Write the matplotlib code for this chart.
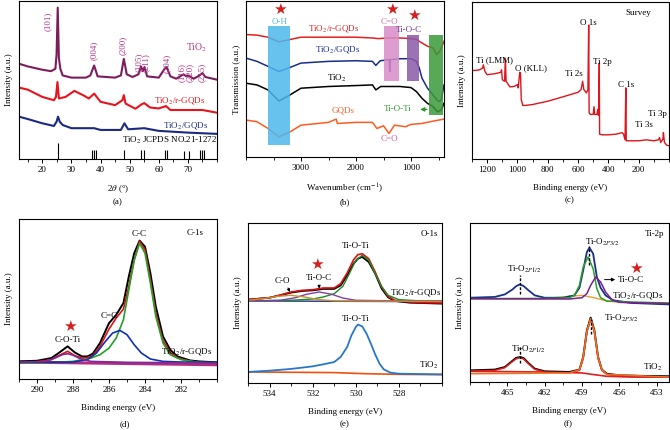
import numpy as np
import matplotlib
matplotlib.use('Agg')
import matplotlib.pyplot as plt
from matplotlib.ticker import MultipleLocator

plt.rcParams['font.family'] = ['Liberation Serif', 'DejaVu Sans']
plt.rcParams['mathtext.fontset'] = 'stix'
plt.rcParams['font.size'] = 6.5

# ---------------- (a) XRD ----------------
xrd_tio2_x = [12, 15, 20, 23, 24.5, 24.9, 25.3, 25.7, 26.2, 27, 30, 35, 36.5, 37.8, 39, 45, 47, 48, 49, 51, 53,
              53.9, 54.5, 55.1, 56, 60, 62, 62.7, 64, 66, 68.5, 69.5, 70, 72, 74, 75, 76, 80]
xrd_tio2_y = [60.3, 58.6, 56.5, 55.6, 57.1, 66.0, 95.8, 64.0, 57.0, 52.9, 51.5, 51.5, 52.9, 59.2, 52.3, 51.5, 52.9,
              63.4, 53.6, 51.9, 53.6, 58.6, 55.6, 58.2, 52.3, 51.5, 57.1, 58.2, 52.3, 50.8, 53.6, 52.3, 52.9, 50.8,
              52.9, 54.4, 51.9, 50.2]
xrd_rgqd_x = [12, 15, 20, 24, 24.7, 25.2, 25.7, 28, 31, 34, 36, 37.8, 40, 45, 47.5, 48, 48.6, 52, 54, 55, 57, 60,
              62.5, 64, 70, 75, 80]
xrd_rgqd_y = [45.2, 43.9, 39.3, 37.2, 39.3, 48.7, 38.3, 39.3, 43.1, 40.4, 38.3, 41.4, 36.2, 34.1, 37.2, 40.4, 35.1,
              31.8, 34.5, 35.4, 32.6, 32.0, 33.5, 31.0, 31.0, 31.0, 29.3]
xrd_gqd_x = [12, 15, 20, 24, 24.9, 25.4, 26, 27, 30, 37.8, 40, 47, 48.2, 49.5, 55, 60, 70, 80]
xrd_gqd_y = [26.8, 25.3, 22.6, 20.9, 23.6, 26.8, 23.6, 21.5, 19.5, 19.5, 18.4, 18.4, 22.6, 18.8, 19.5, 17.8, 16.7,
             15.9]
jcpds_pos = [25.3, 36.9, 37.8, 38.5, 48.0, 53.9, 55.1, 62.1, 62.7, 68.8, 70.3, 74.2, 75.0, 75.5]
jcpds_h = [10.0, 5.5, 5.9, 5.5, 5.9, 5.9, 5.9, 5.4, 5.4, 5.2, 5.2, 5.5, 5.9, 5.5]
hkl_labels = ['(101)', '(004)', '(200)', '(105)', '(211)', '(204)', '(116)', '(220)', '(215)']
hkl_x = [22.0, 37.8, 47.7, 53.2, 55.5, 62.6, 67.8, 70.6, 74.7]
hkl_y = [87.4, 68.6, 71.8, 60.9, 61.3, 60.3, 55.0, 55.0, 55.0]

# ---------------- (b) FTIR ----------------
ir_rgqd_x = [4000, 3800, 3600, 3400, 3200, 3000, 2500, 2000, 1700, 1600, 1400, 1200, 1000, 900, 800, 700, 600, 530,
             480, 450, 400]
ir_rgqd_y = [78.5, 78.1, 76.8, 73.8, 75.3, 76.8, 76.8, 76.8, 76.3, 75.9, 76.3, 76.3, 75.9, 75.3, 73.1, 71.0, 69.9,
             65.6, 67.7, 69.9, 74.2]
ir_gqd_x = [4000, 3800, 3600, 3400, 3200, 3000, 2500, 2000, 1700, 1640, 1560, 1400, 1395, 1385, 1375, 1200, 1000,
            900, 850, 800, 700, 600, 500, 450, 400]
ir_gqd_y = [63.4, 61.3, 58.1, 54.8, 57.4, 60.2, 61.3, 61.7, 61.3, 58.7, 61.7, 62.4, 61.3, 54.8, 62.4, 63.0, 63.0,
            61.3, 57.0, 50.5, 44.1, 39.8, 35.5, 36.6, 46.2]
ir_tio2_x = [4000, 3800, 3600, 3400, 3200, 3000, 2500, 2000, 1700, 1640, 1550, 1400, 1200, 1000, 900, 800, 700, 600,
             520, 450, 400]
ir_tio2_y = [47.3, 46.2, 43.0, 35.9, 39.8, 44.1, 45.2, 45.8, 46.2, 43.0, 45.2, 45.2, 45.2, 44.5, 41.9, 37.6, 34.4,
             32.3, 29.0, 30.1, 34.4]
ir_gqds_x = [4000, 3800, 3600, 3400, 3200, 3000, 2500, 2360, 2340, 2000, 1700, 1620, 1500, 1400, 1300, 1100, 1000,
             800, 600, 400]
ir_gqds_y = [23.7, 22.6, 18.3, 12.9, 16.1, 20.4, 22.2, 24.3, 21.5, 22.2, 22.2, 18.3, 20.0, 15.1, 20.4, 19.4, 20.9,
             21.5, 23.0, 24.3]
# bands: (high wavenumber, low wavenumber, y bottom, y top)
ir_bands = [(3600, 3200, 7.5, 83.9), (1485, 1218, 49.0, 83.9), (1079, 849, 49.0, 78.5), (667, 425, 26.9, 78.5)]
ir_band_colors = ['#4db8ec', '#d98cc8', '#8a5aa8', '#3a9a3a']

# ---------------- (c) XPS survey ----------------
sv_x = [1300, 1280, 1250, 1230, 1225, 1215, 1200, 1150, 1110, 1105, 1100, 1085, 1080, 1075, 1050, 1020, 1000, 995,
        985, 980, 975, 965, 950, 900, 800, 700, 600, 580, 570, 562, 545, 535, 530, 527, 520, 500, 495, 490, 475,
        470, 465, 460, 458, 440, 400, 350, 310, 300, 290, 285, 282, 250, 200, 150, 100, 70, 62, 55, 40, 37, 30, 15,
        0]
sv_y = [56.4, 56.4, 56.8, 57.9, 60.0, 55.8, 53.7, 54.3, 55.2, 56.8, 50.5, 49.5, 64.2, 49.5, 45.9, 46.3, 47.4, 45.3,
        55.2, 54.7, 37.9, 34.1, 34.1, 34.7, 36.8, 39.6, 42.5, 44.2, 49.5, 44.2, 42.1, 44.2, 85.3, 29.5, 28.4, 28.4,
        33.3, 28.4, 28.4, 31.6, 27.8, 61.1, 15.8, 15.4, 15.4, 15.8, 16.8, 15.8, 12.2, 45.3, 11.6, 11.6, 11.6, 12.2,
        11.6, 12.2, 13.7, 10.5, 12.6, 16.8, 10.5, 8.8, 8.4]

# ---------------- (d) C 1s ----------------
c1s_x = [291, 290, 289.2, 288.8, 288.3, 287.9, 287.5, 287.2, 286.9, 286.5, 286.0, 285.6, 285.2, 284.9, 284.6, 284.3,
         284.0, 283.7, 283.4, 283.0, 282.6, 282.2, 281.5, 281, 280]
c1s_raw = [11.0, 11.4, 13.1, 16.2, 20.4, 16.6, 14.1, 14.1, 15.8, 22.5, 34.9, 40.1, 47.4, 64.0, 78.6, 86.5, 82.7,
           66.1, 45.3, 26.6, 18.3, 14.1, 11.6, 11.0, 10.4]
c1s_fit = [10.4, 10.8, 12.1, 14.6, 17.3, 14.6, 13.1, 13.3, 14.6, 20.4, 31.2, 38.1, 43.7, 57.8, 74.4, 86.1, 80.7,
           62.0, 41.2, 23.9, 16.6, 13.3, 11.0, 10.4, 10.0]
c1s_cc_x = [291, 289, 288, 287, 286.5, 286, 285.6, 285.2, 284.9, 284.6, 284.3, 284.0, 283.7, 283.4, 283.0, 282.6,
            282.0, 281, 280]
c1s_cc_y = [10.0, 10.4, 11.0, 13.1, 15.2, 19.3, 25.6, 37.0, 55.7, 74.4, 84.8, 78.6, 59.9, 39.1, 22.5, 15.2, 12.1,
            10.4, 10.0]
c1s_c2_x = [291, 288, 287.2, 286.7, 286.2, 285.8, 285.4, 285.0, 284.6, 284.2, 283.7, 283.0, 282, 280]
c1s_c2_y = [10.4, 10.6, 12.1, 16.2, 23.5, 28.7, 30.4, 27.7, 21.4, 16.2, 12.5, 11.0, 10.6, 10.4]
c1s_coti_x = [291, 289.5, 289, 288.6, 288.3, 288.0, 287.6, 287, 285, 280]
c1s_coti_y = [10.4, 11.0, 13.1, 15.2, 15.8, 14.9, 12.7, 11.0, 10.4, 10.0]
c1s_bg_x = [291, 280]
c1s_bg_y = [10.6, 8.9]

# ---------------- (e) O 1s ----------------
o1s_x = [535, 534, 533.5, 533, 532.5, 532, 531.5, 531, 530.7, 530.4, 530.1, 529.9, 529.7, 529.4, 529.1, 528.8,
         528.5, 528.2, 527.5, 527, 526]
o1s_raw = [52.1, 53.3, 54.8, 56.5, 57.5, 57.9, 58.8, 58.8, 61.0, 67.3, 74.6, 77.7, 78.8, 75.6, 68.3, 59.0, 53.5,
           51.3, 50.2, 50.0, 49.6]
o1s_fit = [52.1, 53.3, 55.0, 56.9, 57.9, 58.3, 59.4, 59.4, 62.1, 68.8, 77.1, 80.2, 80.8, 77.7, 69.4, 60.0, 54.2,
           51.7, 50.6, 50.2, 50.0]
o1s_tioti_x = [535, 533, 532, 531.5, 531, 530.6, 530.3, 530.0, 529.7, 529.4, 529.1, 528.8, 528.5, 528, 527, 526]
o1s_tioti_y = [51.3, 51.7, 52.5, 53.8, 55.8, 60.4, 68.3, 76.7, 79.8, 76.7, 68.3, 60.4, 54.8, 52.1, 51.3, 51.3]
o1s_tioc_x = [535, 533.5, 532.8, 532.3, 531.7, 531.1, 530.6, 530, 528, 526]
o1s_tioc_y = [51.3, 51.7, 53.3, 55.4, 56.9, 55.4, 53.1, 51.7, 51.3, 51.3]
o1s_co_x = [535, 534.3, 533.6, 533.0, 532.4, 531.8, 531, 526]
o1s_co_y = [51.7, 52.7, 54.2, 54.8, 53.8, 52.3, 51.3, 51.0]
o1s_bg_x = [535, 526]
o1s_bg_y = [51.3, 50.8]
o1s_t_x = [535, 534, 533, 532, 531.5, 531, 530.7, 530.4, 530.2, 530.0, 529.9, 529.7, 529.5, 529.3, 529.1, 528.9,
           528.7, 528.4, 528, 527, 526]
o1s_t_y = [6.9, 7.7, 8.8, 10.4, 11.7, 13.1, 16.3, 22.5, 29.8, 35.0, 36.5, 35.4, 30.8, 24.6, 17.9, 12.1, 8.5, 6.5,
           5.8, 5.6, 5.4]
o1s_tbg_x = [535, 531, 529.5, 528, 526]
o1s_tbg_y = [6.9, 6.5, 5.8, 5.4, 5.2]

# ---------------- (f) Ti 2p ----------------
ti_up_x = [468, 466, 465.2, 464.6, 464.3, 464.0, 463.7, 463.3, 462.8, 462, 460.5, 459.6, 459.2, 458.9, 458.6, 458.4,
           458.1, 457.8, 457.5, 457.1, 456.5, 455, 452]
ti_up_y = [53.0, 53.5, 55.1, 58.1, 60.2, 61.4, 60.4, 57.7, 54.5, 53.0, 53.0, 54.5, 59.3, 70.2, 81.8, 84.5, 80.7,
           66.0, 59.3, 54.5, 51.4, 49.7, 48.8]
ti_p32_x = [468, 461, 460, 459.6, 459.2, 458.9, 458.5, 458.1, 457.8, 457.5, 457, 455, 452]
ti_p32_y = [52.4, 52.6, 53.0, 54.5, 60.8, 72.3, 78.6, 71.3, 58.7, 53.0, 50.9, 50.3, 49.7]
ti_tioc_x = [468, 460, 459, 458.6, 458.3, 457.9, 457.5, 457.1, 456.6, 456, 452]
ti_tioc_y = [52.4, 52.2, 53.0, 55.6, 60.8, 66.0, 62.9, 56.6, 51.8, 50.1, 49.3]
ti_upbg_x = [468, 462, 460, 459, 458, 457, 455, 452]
ti_upbg_y = [52.4, 52.4, 53.9, 54.5, 53.0, 50.9, 49.7, 49.3]
ti_lo_x = [468, 466, 465.2, 464.7, 464.3, 464.0, 463.7, 463.3, 462.8, 462, 460, 459.2, 458.9, 458.6, 458.3, 458.0,
           457.7, 457.4, 457, 456, 454, 452]
ti_lo_raw = [7.3, 7.8, 9.4, 12.6, 15.1, 15.7, 15.1, 11.9, 8.4, 6.7, 6.3, 7.8, 15.7, 32.5, 40.5, 32.5, 15.7, 7.8, 5.2,
             4.2, 3.8, 3.6]
ti_lo_fit = [6.9, 7.3, 9.0, 12.2, 14.5, 15.3, 14.5, 11.5, 8.0, 6.3, 5.9, 7.3, 14.7, 31.4, 39.8, 31.4, 14.7, 7.3, 4.8,
             3.8, 3.4, 3.1]
ti_lo32_x = [468, 460, 459.2, 458.9, 458.6, 458.3, 458.0, 457.7, 457.4, 457, 452]
ti_lo32_y = [5.2, 5.7, 7.8, 15.7, 32.1, 39.8, 32.1, 15.7, 7.8, 4.8, 3.1]
ti_lobg_x = [468, 462, 460, 459, 458, 457, 455, 452]
ti_lobg_y = [6.7, 6.3, 5.9, 5.7, 4.6, 3.6, 3.1, 3.1]

STAR = '#d42020'
W, H = 670, 430


def rect(l, t, r, b):
    return [l / W, 1 - b / H, (r - l) / W, (b - t) / H]


def style(ax, xlim, majors, minor, xlabel, ylabel, ylpad=4):
    ax.set_xlim(*xlim)
    ax.set_ylim(0, 100)
    ax.set_yticks([])
    ax.set_xticks(majors)
    ax.xaxis.set_minor_locator(MultipleLocator(minor))
    ax.tick_params(axis='x', which='major', direction='out', length=3, width=0.7, pad=2, labelsize=6.5)
    ax.tick_params(axis='x', which='minor', direction='out', length=2, width=0.6)
    for s in ax.spines.values():
        s.set_linewidth(0.8)
    ax.set_xlabel(xlabel, fontsize=6.5, labelpad=7)
    ax.set_ylabel(ylabel, fontsize=6.5, labelpad=ylpad)


fig = plt.figure(figsize=(6.7, 4.3), dpi=100)

# (a)
ax = fig.add_axes(rect(19, 1, 217, 159))
ax.plot(xrd_tio2_x, xrd_tio2_y, color='#7d1d5c', lw=1.5)
ax.plot(xrd_rgqd_x, xrd_rgqd_y, color='#e8141c', lw=1.5)
ax.plot(xrd_gqd_x, xrd_gqd_y, color='#1b2a80', lw=1.5)
ax.vlines(jcpds_pos, 0, jcpds_h, color='k', lw=0.8)
for lab, x, y in zip(hkl_labels, hkl_x, hkl_y):
    ax.text(x, y, lab, rotation=90, color='#b5338a', ha='center', va='center', fontsize=6.5)
ax.text(72.9, 70.3, 'TiO$_2$', color='#b5338a', ha='center', va='center', fontsize=7)
ax.text(67.1, 37.2, 'TiO$_2$/r-GQDs', color='#e8141c', ha='center', va='center', fontsize=6.5)
ax.text(69.4, 21.5, 'TiO$_2$/GQDs', color='#1b2a80', ha='center', va='center', fontsize=6.5)
ax.text(63.7, 11.7, 'TiO$_2$ JCPDS NO.21-1272', color='k', ha='center', va='center', fontsize=6.5)
style(ax, (12, 80), [20, 30, 40, 50, 60, 70], 5, r'2$\theta$ (°)', 'Intensity (a.u.)')

# (b)
ax = fig.add_axes(rect(246, 1, 444, 157))
ax.plot(ir_rgqd_x, ir_rgqd_y, color='#e32020', lw=1.1)
ax.plot(ir_gqd_x, ir_gqd_y, color='#1a2d8c', lw=1.1)
ax.plot(ir_tio2_x, ir_tio2_y, color='k', lw=1.1)
ax.plot(ir_gqds_x, ir_gqds_y, color='#ff5a1f', lw=1.1)
for (x0, x1, y0, y1), c in zip(ir_bands, ir_band_colors):
    ax.axvspan(x1, x0, ymin=y0 / 100, ymax=y1 / 100, color=c, alpha=0.85, lw=0, zorder=3)
ax.text(3394, 86.7, 'O-H', color='#4db8ec', ha='center', va='center')
ax.text(1394, 86.7, 'C=O', color='#d070b0', ha='center', va='center')
ax.text(1031, 81.7, 'Ti-O-C', color='#6a3a8a', ha='center', va='center')
for x, y in [(3382, 94.6), (1352, 94.6), (946, 91.0)]:
    ax.text(x, y, '★', color=STAR, ha='center', va='center', fontsize=11, family='DejaVu Sans')
ax.text(2412, 82.4, 'TiO$_2$/r-GQDs', color='#e32020', ha='center', va='center')
ax.text(2340, 68.8, 'TiO$_2$/GQDs', color='#1a2d8c', ha='center', va='center')
ax.text(2340, 50.1, 'TiO$_2$', color='k', ha='center', va='center')
ax.text(2230, 29.7, 'GQDs', color='#ff5a1f', ha='center', va='center')
ax.text(1394, 11.8, 'C=O', color='#c060a8', ha='center', va='center')
ax.text(1243, 30.5, 'Ti-O-Ti', color='#2a9a2a', ha='center', va='center')
ax.annotate('', xy=(885, 30.5), xytext=(660, 30.5),
            arrowprops=dict(arrowstyle='-|>', color='#2a9a2a', lw=0.9, mutation_scale=6))
style(ax, (4000, 400), [3000, 2000, 1000], 500, 'Wavenumber (cm$^{-1}$)', 'Transmission (a.u.)')

# (c)
ax = fig.add_axes(rect(472, 2, 669, 159))
ax.plot(sv_x, sv_y, color='#e0141c', lw=1.0)
for lab, x, y in [('Survey', 203, 93.1), ('O 1s', 533, 86.9), ('Ti (LMM)', 1150, 63.2), ('O (KLL)', 912, 57.9),
                  ('Ti 2s', 626, 54.3), ('Ti 2p', 441, 62.1), ('C 1s', 284, 47.4), ('Ti 3s', 163, 21.5),
                  ('Ti 3p', 77, 28.4)]:
    ax.text(x, y, lab, ha='center', va='center', fontsize=6.5)
style(ax, (1300, 0), [1200, 1000, 800, 600, 400, 200], 100, 'Binding energy (eV)', 'Intensity (a.u.)')

# (d)
ax = fig.add_axes(rect(19, 219, 217, 379))
ax.plot(c1s_bg_x, c1s_bg_y, color='#b62a80', lw=2.2)
ax.plot(c1s_x, c1s_raw, color='k', lw=1.4)
ax.plot(c1s_x, c1s_fit, color='#e01010', lw=1.2)
ax.plot(c1s_cc_x, c1s_cc_y, color='#22a02a', lw=1.2)
ax.plot(c1s_c2_x, c1s_c2_y, color='#1030b0', lw=1.2)
ax.plot(c1s_coti_x, c1s_coti_y, color='#7a2a9a', lw=1.2)
ax.text(281.2, 91.5, 'C-1s', ha='center', va='center')
ax.text(284.3, 90.6, 'C-C', ha='center', va='center')
ax.text(286.0, 39.5, 'C=C', ha='center', va='center')
ax.text(288.3, 24.5, 'C-O-Ti', ha='center', va='center')
ax.text(288.2, 32.8, '★', color=STAR, ha='center', va='center', fontsize=11, family='DejaVu Sans')
ax.text(281.7, 17.3, 'TiO$_2$/r-GQDs', ha='center', va='center')
style(ax, (291, 280), [290, 288, 286, 284, 282], 1, 'Binding energy (eV)', 'Intensity (a.u.)')

# (e)
ax = fig.add_axes(rect(248, 223, 442, 383))
ax.plot(o1s_bg_x, o1s_bg_y, color='#203080', lw=1.0)
ax.plot(o1s_x, o1s_raw, color='k', lw=1.3)
ax.plot(o1s_x, o1s_fit, color='#e01010', lw=1.2)
ax.plot(o1s_tioti_x, o1s_tioti_y, color='#1a8a2a', lw=1.0)
ax.plot(o1s_tioc_x, o1s_tioc_y, color='#8040a0', lw=1.0)
ax.plot(o1s_co_x, o1s_co_y, color='#c89030', lw=1.0)
ax.plot(o1s_tbg_x, o1s_tbg_y, color='#f05010', lw=1.2)
ax.plot(o1s_t_x, o1s_t_y, color='#2878c8', lw=1.3)
ax.text(526.6, 93.3, 'O-1s', ha='center', va='center')
ax.text(530.0, 85.4, 'Ti-O-Ti', ha='center', va='center')
ax.text(531.8, 74.0, '★', color=STAR, ha='center', va='center', fontsize=11, family='DejaVu Sans')
ax.text(531.7, 65.4, 'Ti-O-C', ha='center', va='center')
ax.annotate('', xy=(531.7, 57.3), xytext=(531.7, 62.5),
            arrowprops=dict(arrowstyle='-|>', color='k', lw=0.7, mutation_scale=4))
ax.text(533.4, 64.0, 'C-O', ha='center', va='center')
ax.annotate('', xy=(533.0, 55.3), xytext=(533.2, 61.0),
            arrowprops=dict(arrowstyle='-|>', color='k', lw=0.7, mutation_scale=4))
ax.text(527.2, 56.3, 'TiO$_2$/r-GQDs', ha='center', va='center')
ax.text(530.0, 40.2, 'Ti-O-Ti', ha='center', va='center')
ax.text(526.6, 11.0, 'TiO$_2$', ha='center', va='center')
style(ax, (535, 526), [534, 532, 530, 528], 1, 'Binding energy (eV)', 'Intensity (a.u.)')

# (f)
ax = fig.add_axes(rect(470, 223, 669, 382))
ax.plot(ti_upbg_x, ti_upbg_y, color='#e8a030', lw=1.0)
ax.plot(ti_up_x, ti_up_y, color='#1a2f88', lw=1.3)
ax.plot(ti_p32_x, ti_p32_y, color='#2aa02a', lw=1.1)
ax.plot(ti_tioc_x, ti_tioc_y, color='#7a2090', lw=1.1)
ax.plot(ti_lobg_x, ti_lobg_y, color='#e02020', lw=1.2)
ax.plot(ti_lo_x, ti_lo_raw, color='k', lw=1.4)
ax.plot(ti_lo_x, ti_lo_fit, color='#e02020', lw=1.1)
ax.plot(ti_lo32_x, ti_lo32_y, color='#f07020', lw=1.1)
for x, y0, y1 in [(458.4, 73.4, 85.3), (464.0, 55.6, 67.1), (458.3, 30.0, 39.8), (464.0, 11.9, 22.4)]:
    ax.plot([x, x], [y0, y1], color='k', ls=(0, (2, 1.2)), lw=1.0)
ax.text(453.2, 92.9, 'Ti-2p', ha='center', va='center')
ax.text(457.4, 88.1, 'Ti-O$_{2P3/2}$', ha='center', va='center')
ax.text(463.6, 70.6, 'Ti-O$_{2P1/2}$', ha='center', va='center')
ax.annotate('', xy=(456.1, 64.4), xytext=(457.4, 64.4),
            arrowprops=dict(arrowstyle='-|>', color='k', lw=0.7, mutation_scale=5))
ax.text(455.1, 64.4, 'Ti-O-C', ha='center', va='center')
ax.text(454.7, 71.7, '★', color=STAR, ha='center', va='center', fontsize=11, family='DejaVu Sans')
ax.text(454.5, 54.5, 'TiO$_2$/r-GQDs', ha='center', va='center')
ax.text(463.3, 20.3, 'Ti-O$_{2P1/2}$', ha='center', va='center')
ax.text(455.8, 39.8, 'Ti-O$_{2P3/2}$', ha='center', va='center')
ax.text(453.3, 9.4, 'TiO$_2$', ha='center', va='center')
style(ax, (468, 452), [465, 462, 459, 456, 453], 1.5, 'Binding energy (eV)', 'Intensity (a.u.)')

for lab, x, y in [('(a)', 118, 202), ('(b)', 345, 202), ('(c)', 570, 200),
                  ('(d)', 125, 424), ('(e)', 345, 424), ('(f)', 568, 424)]:
    fig.text(x / W, 1 - y / H, lab, ha='center', va='center', fontsize=6.5)

fig.savefig('out.png', dpi=100)
plt.close(fig)
